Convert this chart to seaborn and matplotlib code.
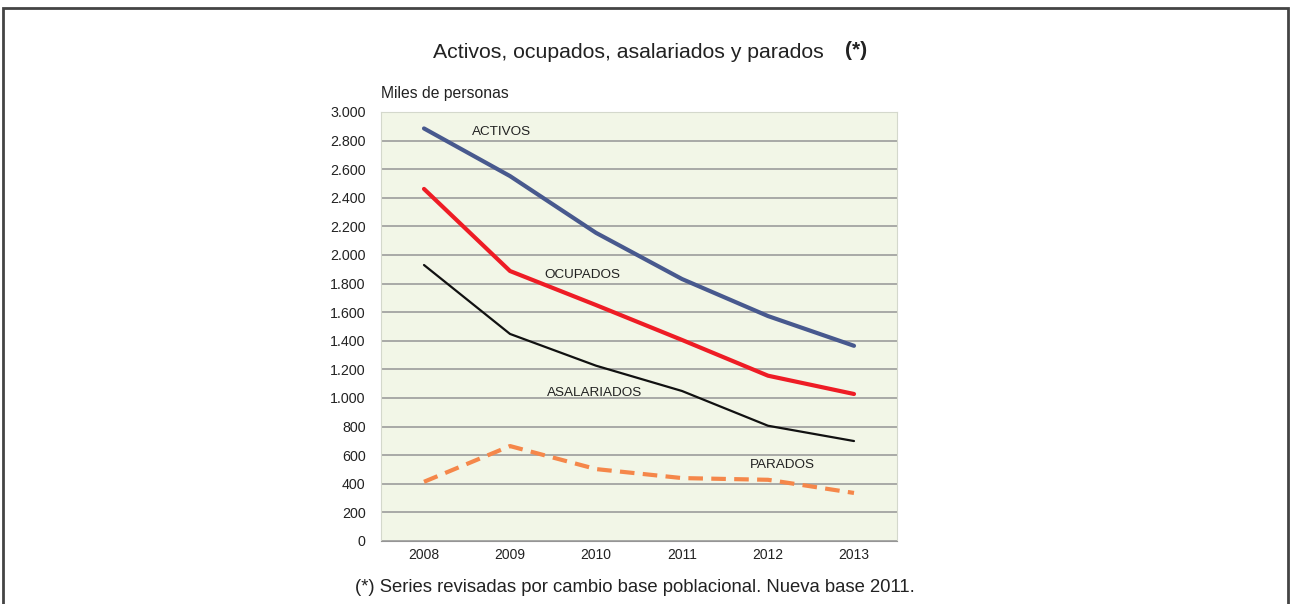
import seaborn as sns
import pandas as pd
import matplotlib.pyplot as plt
from matplotlib.patches import Rectangle
from matplotlib.ticker import FuncFormatter

years = ['2008', '2009', '2010', '2011', '2012', '2013']
activos = [2885, 2552, 2155, 1832, 1573, 1365]
ocupados = [2462, 1888, 1650, 1406, 1156, 1028]
asalariados = [1930, 1448, 1226, 1049, 806, 699]
parados = [414, 664, 503, 440, 428, 336]

SERIES = {
    'ACTIVOS': (activos, '#48598e', 3.0, '-'),
    'OCUPADOS': (ocupados, '#ee1c25', 3.0, '-'),
    'ASALARIADOS': (asalariados, '#111111', 1.6, '-'),
    'PARADOS': (parados, '#f5874a', 3.0, (0, (3.5, 2))),
}

sns.set_style('white')
plt.rcParams['font.family'] = ['Liberation Sans', 'DejaVu Sans']

df = pd.DataFrame({'year': years, 'ACTIVOS': activos, 'OCUPADOS': ocupados,
                   'ASALARIADOS': asalariados, 'PARADOS': parados})
long = df.melt(id_vars='year', var_name='serie', value_name='valor')

fig = plt.figure(figsize=(12.9, 6.04), dpi=100)
ax = fig.add_axes([381 / 1290, 1 - 541 / 604, 516 / 1290, 429 / 604])
ax.set_facecolor('#f2f6e7')

for name, (vals, color, lw, ls) in SERIES.items():
    sub = long[long['serie'] == name]
    sns.lineplot(data=sub, x='year', y='valor', ax=ax, color=color,
                 linewidth=lw, linestyle=ls, sort=False)

ax.set_xlim(-0.5, 5.5)
ax.set_ylim(0, 3000)
ax.set_yticks(range(0, 3001, 200))
ax.yaxis.set_major_formatter(FuncFormatter(lambda v, p: f'{int(v):,}'.replace(',', '.')))
ax.grid(axis='y', color='#959595', linewidth=1.1)
ax.set_axisbelow(True)
for s in ['left', 'top', 'right']:
    ax.spines[s].set_color('#d4d8cc')
ax.spines['bottom'].set_color('#959595')
ax.tick_params(axis='y', length=0, labelsize=10.3, colors='#222222', pad=11)
ax.tick_params(axis='x', length=0, labelsize=10, colors='#222222', pad=5)
ax.set_xlabel('')
ax.set_ylabel('')

# series labels inside the plot
lab = dict(fontsize=9.7, ha='center', va='center', color='#222222')
ax.text(0.9, 2860, 'ACTIVOS', **lab)
ax.text(1.84, 1860, 'OCUPADOS', **lab)
ax.text(1.98, 1035, 'ASALARIADOS', **lab)
ax.text(4.17, 531, 'PARADOS', **lab)

fig.text(381 / 1290, 1 - 93 / 604, 'Miles de personas', fontsize=11.3,
         ha='left', va='center', color='#222222')
fig.text(824 / 1290, 1 - 52 / 604, 'Activos, ocupados, asalariados y parados',
         fontsize=15.3, ha='right', va='center', color='#222222')
fig.text(856 / 1290, 1 - 51 / 604, '(*)', fontsize=15, fontweight='bold',
         ha='center', va='center', color='#222222')
fig.text(635 / 1290, 1 - 587 / 604,
         '(*) Series revisadas por cambio base poblacional. Nueva base 2011.',
         fontsize=13.3, ha='center', va='center', color='#222222')

# outer frame
fig.patches.append(Rectangle((3 / 1290, -0.05), 1285 / 1290, 1.05 - 8 / 604,
                             transform=fig.transFigure, fill=False,
                             edgecolor='#444444', linewidth=2))

plt.savefig('out.png', dpi=100)
